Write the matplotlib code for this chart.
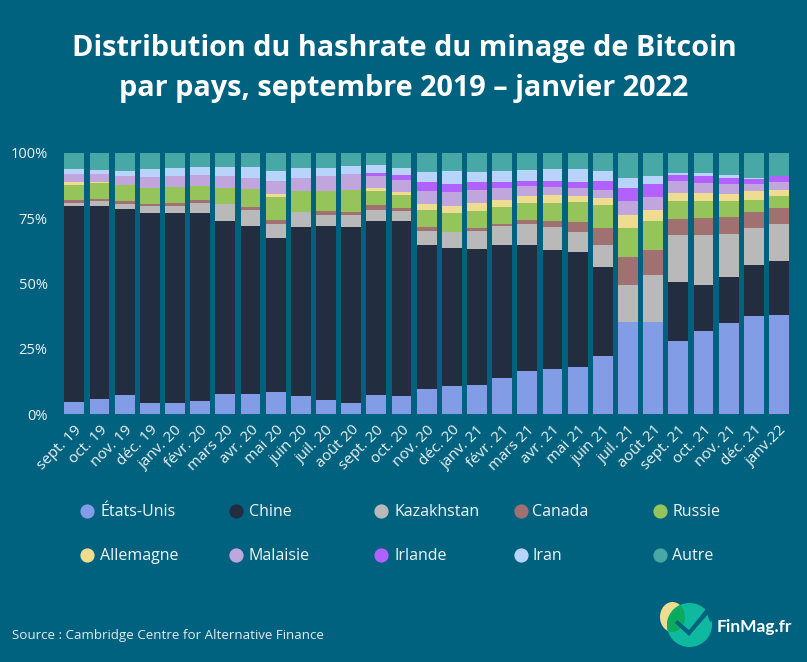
"""
hashrate Bitcoin par pays, barres empilees
"""
import numpy as np
import matplotlib
matplotlib.use("Agg")
import matplotlib.pyplot as plt
from matplotlib.patches import Ellipse, Polygon

W, H = 807, 662
BG = "#00627f"
plt.rcParams["font.family"] = ["Open Sans", "DejaVu Sans"]

mois = ["sept. 19", "oct. 19", "nov. 19", "déc. 19", "janv. 20", "févr. 20", "mars 20", "avr. 20",
        "mai 20", "juin 20", "juil. 20", "août 20", "sept. 20", "oct. 20", "nov. 20", "déc. 20",
        "janv. 21", "févr. 21", "mars 21", "avr. 21", "mai 21", "juin 21", "juil. 21", "août 21",
        "sept. 21", "oct. 21", "nov. 21", "déc. 21", "janv.22"]

etats_unis = [4.5, 5.6, 7.2, 4.3, 4.1, 4.9, 7.5, 7.5, 8.4, 7.0, 5.2, 4.2, 7.4, 7.0, 9.7, 10.7, 11.0, 13.7,
              16.3, 17.1, 18.1, 22.1, 35.2, 35.2, 27.8, 31.8, 34.9, 37.7, 38.1]
chine = [75.2, 74.1, 71.3, 72.8, 73.0, 72.2, 66.4, 64.5, 59.1, 64.6, 66.8, 67.4, 66.5, 66.9, 55.2, 53.0, 52.3, 51.2,
         48.6, 45.9, 43.8, 34.4, 0, 0, 22.6, 17.7, 17.7, 19.4, 20.7]
kazakhstan = [1.0, 1.9, 2.0, 2.6, 2.6, 3.6, 6.4, 6.3, 5.3, 5.8, 4.1, 4.5, 4.4, 3.8, 5.2, 5.9, 6.8, 7.1,
              7.9, 8.6, 7.7, 8.3, 14.4, 18.2, 18.1, 19.0, 16.4, 14.2, 14.0]
canada = [1.3, 0.8, 1.1, 0.8, 1.1, 1.3, 0.2, 1.0, 1.5, 0.1, 1.7, 1.4, 1.6, 1.2, 1.5, 0.1, 1.2, 0.8,
          1.5, 2.3, 4.0, 6.5, 10.4, 9.4, 6.2, 6.5, 6.5, 6.1, 6.1]
russie = [5.7, 6.2, 6.1, 6.0, 6.3, 5.4, 6.2, 6.9, 9.0, 7.9, 7.8, 8.5, 5.5, 4.9, 6.7, 7.2, 6.5, 6.5,
          6.4, 6.8, 7.5, 8.7, 11.3, 11.1, 6.8, 6.6, 6.0, 4.7, 4.8]
allemagne = [1.2, 0.2, 0, 0.1, 0, 0, 0, 0, 1.1, 0, 0, 0, 1.1, 1.3, 2.0, 2.8, 2.9, 2.6,
             2.7, 3.1, 2.6, 2.8, 4.9, 4.4, 3.2, 3.2, 2.9, 3.2, 2.3]
malaisie = [3.1, 3.2, 3.5, 4.2, 4.1, 4.2, 4.5, 4.2, 4.9, 5.0, 5.6, 6.1, 4.7, 4.4, 5.1, 5.5, 5.3, 4.8,
            3.8, 3.2, 3.0, 3.2, 5.3, 5.0, 4.6, 3.6, 3.7, 2.7, 2.8]
irlande = [0, 0, 0, 0, 0, 0, 0, 0, 0, 0, 0, 0, 1.3, 1.9, 3.5, 2.9, 2.9, 2.2,
           2.2, 2.4, 2.3, 3.2, 5.0, 4.7, 2.1, 2.8, 2.4, 2.2, 2.2]
iran = [1.7, 1.6, 1.9, 2.9, 3.1, 3.0, 3.4, 4.2, 3.8, 3.9, 3.1, 2.8, 2.9, 3.0, 3.7, 4.9, 3.8, 4.2,
        4.1, 4.6, 4.7, 3.8, 4.0, 3.2, 1.1, 1.0, 1.1, 0.1, 0.1]
autre = [6.3, 6.4, 6.9, 6.3, 5.7, 5.4, 5.4, 5.4, 6.9, 5.7, 5.7, 5.1, 4.6, 5.6, 7.4, 7.0, 7.3, 6.9,
         6.5, 6.0, 6.3, 7.0, 9.5, 8.8, 7.5, 7.8, 8.4, 9.7, 8.9]

series = [
    ("États-Unis", etats_unis, "#829cE6"),
    ("Chine", chine, "#232d40"),
    ("Kazakhstan", kazakhstan, "#b9b9b9"),
    ("Canada", canada, "#a17070"),
    ("Russie", russie, "#95c45b"),
    ("Allemagne", allemagne, "#eedd90"),
    ("Malaisie", malaisie, "#c0a6dc"),
    ("Irlande", irlande, "#b061ff"),
    ("Iran", iran, "#b8d4fa"),
    ("Autre", autre, "#48a8a5"),
]

# position des pastilles / textes de legende, en pixels
leg_x = [87, 236, 381, 521, 660]
leg_txt_x = [100, 249, 394, 532, 672]
leg_y = [511, 555]

fig = plt.figure(figsize=(W / 100, H / 100), dpi=100, facecolor=BG)

# axe pleine page en pixels pour titre, legende, logo
bg = fig.add_axes([0, 0, 1, 1])
bg.set_xlim(0, W)
bg.set_ylim(H, 0)
bg.axis("off")

bg.text(404, 48.5, "Distribution du hashrate du minage de Bitcoin", color="white", fontsize=20.8,
        fontweight="bold", ha="center", va="center")
bg.text(404, 88.5, "par pays, septembre 2019 – janvier 2022", color="white", fontsize=20.8,
        fontweight="bold", ha="center", va="center")

for i, (nom, _, couleur) in enumerate(series):
    row, col = divmod(i, 5)
    bg.scatter(leg_x[col], leg_y[row], s=105, color=couleur, linewidths=0)
    bg.text(leg_txt_x[col], leg_y[row] + 1.5, nom, color="#f2f6f8", fontsize=11.5, va="center", ha="left")

bg.text(12, 636, "Source : Cambridge Centre for Alternative Finance", color="#e4ecef", fontsize=9.6,
        va="center", ha="left")

# logo
teal = Ellipse((689.5, 625), 45, 44, color="#0fb9a0", lw=0)
bg.add_patch(Ellipse((672.5, 617), 25, 30, color="#eedd90", lw=0))
bg.add_patch(teal)
vert = Ellipse((672.5, 617), 25, 30, color="#0bab5f", lw=0)
bg.add_patch(vert)
vert.set_clip_path(teal)
# encoche et coche du logo
bg.add_patch(Polygon([(705, 608), (714, 600), (716, 616), (710, 622)], closed=True, color=BG, lw=0))
bg.add_patch(Polygon([(675, 623), (677, 620), (689, 630), (706, 609), (709, 613), (689, 636)],
                     closed=True, color=BG, lw=0))
bg.text(717, 627, "FinMag.fr", color="white", fontsize=12.5, fontweight="bold", family="Lato",
        va="center", ha="left")

# graphique
left, right, top, bottom = 60, 795, 153, 414
ax = fig.add_axes([left / W, 1 - bottom / H, (right - left) / W, (bottom - top) / H])
ax.patch.set_alpha(0)
x = np.arange(len(mois))
step = 25.17
ax.set_xlim((left - 74.3) / step, (right - 74.3) / step)
ax.set_ylim(0, 100)

base = np.zeros(len(mois))
for nom, valeurs, couleur in series:
    valeurs = np.array(valeurs)
    ax.bar(x, valeurs, 0.79, bottom=base, color=couleur, linewidth=0)
    base += valeurs

ax.set_xticks(x)
ax.set_xticklabels(mois, rotation=45, ha="right", rotation_mode="anchor", fontsize=11, color="#eef3f5")
ax.set_yticks([0, 25, 50, 75, 100])
ax.set_yticklabels(["0%", "25%", "50%", "75%", "100%"], fontsize=10.5, color="#eef3f5")
ax.tick_params(length=0, pad=9, axis="y")
ax.tick_params(length=0, pad=6, axis="x")
for s in ax.spines.values():
    s.set_visible(False)

fig.savefig("out.png", dpi=100, facecolor=BG)
